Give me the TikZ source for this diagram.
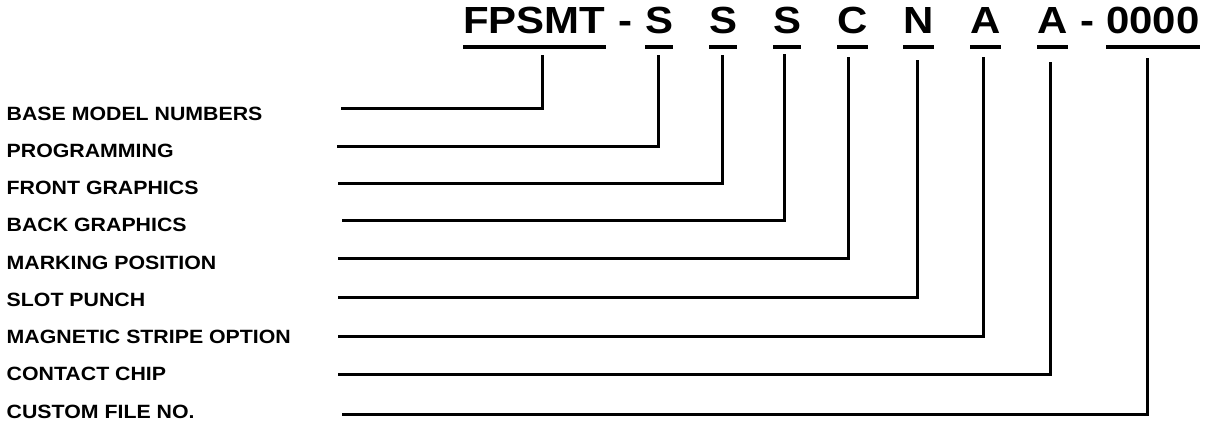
\documentclass[tikz,border=0pt]{standalone}
\usepackage{fontspec}
\setmainfont{Liberation Sans}
\newfontfamily\labfont{Liberation Sans}[FakeStretch=1.11]
\begin{document}
\begin{tikzpicture}[x=1pt,y=-1pt,
		lab/.style={font=\labfont\fontsize{19.2}{19}\selectfont\bfseries,anchor=base west,inner sep=0pt},
		code/.style={font=\labfont\fontsize{37.8}{38}\selectfont\bfseries,anchor=base west,inner sep=0pt},
		uline/.style={line width=4pt},
		lead/.style={line width=3pt}]
		\useasboundingbox (0,0) rectangle (1208,424);
		\node [code] (fpsmt) at (463,33) {FPSMT};
		\node [code] (dasha) at (618,33) {-};
		\node [code] (prog) at (645,33) {S};
		\node [code] (front) at (709,33) {S};
		\node [code] (back) at (773,33) {S};
		\node [code] (mark) at (837,33) {C};
		\node [code] (slot) at (903,33) {N};
		\node [code] (magn) at (970,33) {A};
		\node [code] (chip) at (1037,33) {A};
		\node [code] (dashb) at (1080,33) {-};
		\node [code] (file) at (1106,33) {0000};
		\draw [uline] ([yshift=-14]fpsmt.base west) -- ([yshift=-14]fpsmt.base east);
		\draw [uline] ([yshift=-14]prog.base west) -- ([yshift=-14]prog.base east);
		\draw [uline] ([yshift=-14]front.base west) -- ([yshift=-14]front.base east);
		\draw [uline] ([yshift=-14]back.base west) -- ([yshift=-14]back.base east);
		\draw [uline] ([yshift=-14]mark.base west) -- ([yshift=-14]mark.base east);
		\draw [uline] ([yshift=-14]slot.base west) -- ([yshift=-14]slot.base east);
		\draw [uline] ([yshift=-14]magn.base west) -- ([yshift=-14]magn.base east);
		\draw [uline] ([yshift=-14]chip.base west) -- ([yshift=-14]chip.base east);
		\draw [uline] ([yshift=-14]file.base west) -- ([yshift=-14]file.base east);
		\node [lab] (lbase) at (6.5,120) {BASE MODEL NUMBERS};
		\node [lab] (lprog) at (6.5,157.25) {PROGRAMMING};
		\node [lab] (lfront) at (6.5,194.5) {FRONT GRAPHICS};
		\node [lab] (lback) at (6.5,231.75) {BACK GRAPHICS};
		\node [lab] (lmark) at (6.5,269) {MARKING POSITION};
		\node [lab] (lslot) at (6.5,306.25) {SLOT PUNCH};
		\node [lab] (lmagn) at (6.5,343.5) {MAGNETIC STRIPE OPTION};
		\node [lab] (lchip) at (6.5,380.75) {CONTACT CHIP};
		\node [lab] (lfile) at (6.5,418) {CUSTOM FILE NO.};
		\coordinate (hbase) at (341,108);
		\coordinate (hprog) at (337,146.7);
		\coordinate (hfront) at (338,183.3);
		\coordinate (hback) at (342,220);
		\coordinate (hmark) at (338,258.3);
		\coordinate (hslot) at (338,297.3);
		\coordinate (hmagn) at (338,336.7);
		\coordinate (hchip) at (338,374);
		\coordinate (hfile) at (342,414);
		\draw [lead] ([shift={(8pt,-22pt)}]fpsmt.base) |- (hbase);
		\draw [lead] ([shift={(-1pt,-22pt)}]prog.base) |- (hprog);
		\draw [lead] ([shift={(-1pt,-22pt)}]front.base) |- (hfront);
		\draw [lead] ([shift={(-3pt,-21pt)}]back.base) |- (hback);
		\draw [lead] ([shift={(-4pt,-24pt)}]mark.base) |- (hmark);
		\draw [lead] ([shift={(-1pt,-27pt)}]slot.base) |- (hslot);
		\draw [lead] ([shift={(-2pt,-24pt)}]magn.base) |- (hmagn);
		\draw [lead] ([shift={(-2pt,-29pt)}]chip.base) |- (hchip);
		\draw [lead] ([shift={(-5pt,-25pt)}]file.base) |- (hfile);
	\end{tikzpicture}
\end{document}
